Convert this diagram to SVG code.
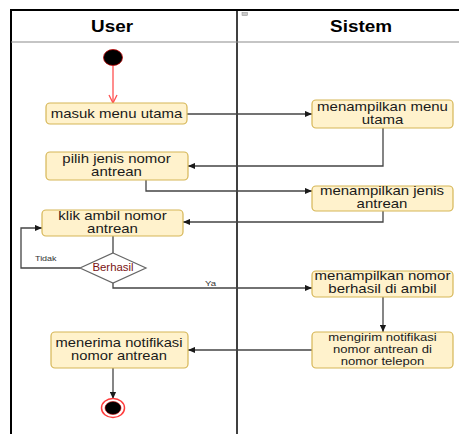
<svg xmlns="http://www.w3.org/2000/svg" width="459" height="434" viewBox="0 0 459 434">
  <defs>
    <marker id="arrow" viewBox="0 0 8 8" refX="8" refY="4" markerWidth="7" markerHeight="7" markerUnits="userSpaceOnUse" orient="auto">
      <path d="M0,0.5 L8,4 L0,7.5 Z" fill="#1a1a1a"/>
    </marker>
    <marker id="openArrow" viewBox="0 0 10 10" refX="9" refY="5" markerWidth="10" markerHeight="10" markerUnits="userSpaceOnUse" orient="auto">
      <path d="M1,1 L9,5 L1,9" fill="none" stroke="#ff5050" stroke-width="1.3"/>
    </marker>
    <style>
      .lane { stroke: #000; fill: none; }
      .act { fill: #fff2cc; stroke: #d6b656; stroke-width: 1.2; }
      .lbl { font-family: "Liberation Sans", Arial, sans-serif; font-size: 12.5px; fill: #1a1a1a; text-anchor: middle; }
      .small { font-size: 11px; }
      .head { font-family: "Liberation Sans", Arial, sans-serif; font-size: 16px; font-weight: bold; fill: #000; text-anchor: middle; }
      .edge { fill: none; stroke: #444; stroke-width: 1.3; }
      .tag { font-family: "Liberation Sans", Arial, sans-serif; font-size: 8px; fill: #333; }
    </style>
  </defs>

  <rect width="459" height="434" fill="#fff"/>

  <!-- swimlane frame -->
  <g id="swimlanes">
    <line x1="11" y1="10" x2="459" y2="10" class="lane" stroke-width="2"/>
    <line x1="11" y1="9" x2="11" y2="434" class="lane" stroke-width="2"/>
    <line x1="237" y1="10" x2="237" y2="434" class="lane" stroke-width="1.5"/>
    <line x1="11" y1="42" x2="459" y2="42" stroke="#8c8c8c" stroke-width="1.2"/>
    <rect x="242" y="12.5" width="5.5" height="3" fill="#c8c8c8" stroke="#8a8a8a" stroke-width="0.5"/>
    <g transform="translate(112,0) scale(1.18,1)"><text class="head" x="0" y="32">User</text></g>
    <g transform="translate(361,0) scale(1.18,1)"><text class="head" x="0" y="32">Sistem</text></g>
  </g>

  <!-- connectors -->
  <g id="connectors">
    <line class="edge" x1="113" y1="66" x2="113" y2="103" style="stroke:#ff5050" marker-end="url(#openArrow)"/>
    <line class="edge" x1="187" y1="114" x2="312" y2="114" marker-end="url(#arrow)"/>
    <polyline class="edge" points="383,128 383,166 188,166" marker-end="url(#arrow)"/>
    <polyline class="edge" points="146,180 146,191 312,191" marker-end="url(#arrow)"/>
    <polyline class="edge" points="383,211 383,222 183,222" marker-end="url(#arrow)"/>
    <line class="edge" x1="113" y1="236" x2="113" y2="253"/>
    <polyline class="edge" points="80,268 21,268 21,228 42,228" marker-end="url(#arrow)"/>
    <polyline class="edge" points="113,283 113,288 312,288" marker-end="url(#arrow)"/>
    <line class="edge" x1="383" y1="297" x2="383" y2="332" marker-end="url(#arrow)"/>
    <line class="edge" x1="312" y1="350" x2="188" y2="350" marker-end="url(#arrow)"/>
    <line class="edge" x1="113" y1="368" x2="113" y2="399" marker-end="url(#arrow)"/>
    <g transform="translate(35,0) scale(1.12,1)"><text class="tag" x="0" y="261">Tidak</text></g>
    <g transform="translate(205,0) scale(1.2,1)"><text class="tag" x="0" y="286">Ya</text></g>
  </g>

  <!-- nodes -->
  <g id="start">
    <ellipse cx="113" cy="57.5" rx="9.5" ry="8" fill="#000" stroke="#c00000" stroke-width="0.8"/>
  </g>

  <g id="masuk-menu-utama">
    <rect class="act" x="46" y="103" width="141" height="21" rx="4"/>
    <g transform="translate(116.5,0) scale(1.2,1)"><text class="lbl" x="0" y="118">masuk menu utama</text></g>
  </g>

  <g id="menampilkan-menu-utama">
    <rect class="act" x="312" y="100" width="141" height="28" rx="4"/>
    <g transform="translate(382.5,0) scale(1.2,1)">
      <text class="lbl" x="0" y="111">menampilkan menu</text>
      <text class="lbl" x="0" y="124">utama</text>
    </g>
  </g>

  <g id="pilih-jenis-nomor">
    <rect class="act" x="46" y="152" width="142" height="28" rx="4"/>
    <g transform="translate(116.5,0) scale(1.2,1)">
      <text class="lbl" x="0" y="163">pilih jenis nomor</text>
      <text class="lbl" x="0" y="176">antrean</text>
    </g>
  </g>

  <g id="menampilkan-jenis-antrean">
    <rect class="act" x="312" y="186" width="141" height="25" rx="4"/>
    <g transform="translate(382,0) scale(1.2,1)">
      <text class="lbl" x="0" y="195">menampilkan jenis</text>
      <text class="lbl" x="0" y="208">antrean</text>
    </g>
  </g>

  <g id="klik-ambil-nomor">
    <rect class="act" x="42" y="210" width="141" height="26" rx="4"/>
    <g transform="translate(112.5,0) scale(1.2,1)">
      <text class="lbl" x="0" y="220">klik ambil nomor</text>
      <text class="lbl" x="0" y="233">antrean</text>
    </g>
  </g>

  <g id="berhasil">
    <polygon points="113,253 146,268 113,283 80,268" fill="#fff" stroke="#666" stroke-width="1.2"/>
    <g transform="translate(113,0) scale(1.14,1)"><text class="lbl" x="0" y="271.5" style="font-size:10px;fill:#7a1212">Berhasil</text></g>
  </g>

  <g id="menampilkan-nomor-berhasil">
    <rect class="act" x="312" y="271" width="141" height="26" rx="4"/>
    <g transform="translate(382.5,0) scale(1.2,1)">
      <text class="lbl" x="0" y="280">menampilkan nomor</text>
      <text class="lbl" x="0" y="293">berhasil di ambil</text>
    </g>
  </g>

  <g id="mengirim-notifikasi">
    <rect class="act" x="312" y="332" width="141" height="36" rx="4"/>
    <g transform="translate(382.5,0) scale(1.19,1)">
      <text class="lbl small" x="0" y="341.5">mengirim notifikasi</text>
      <text class="lbl small" x="0" y="353.5">nomor antrean di</text>
      <text class="lbl small" x="0" y="365.5">nomor telepon</text>
    </g>
  </g>

  <g id="menerima-notifikasi">
    <rect class="act" x="51" y="332" width="137" height="36" rx="4"/>
    <g transform="translate(119,0) scale(1.18,1)">
      <text class="lbl" x="0" y="347">menerima notifikasi</text>
      <text class="lbl" x="0" y="360">nomor antrean</text>
    </g>
  </g>

  <g id="end">
    <ellipse cx="113" cy="408" rx="11.5" ry="9.5" fill="#fff" stroke="#ff3b3b" stroke-width="1.5"/>
    <ellipse cx="113" cy="408" rx="8" ry="6.5" fill="#000" stroke="#c00000" stroke-width="0.6"/>
  </g>
</svg>
